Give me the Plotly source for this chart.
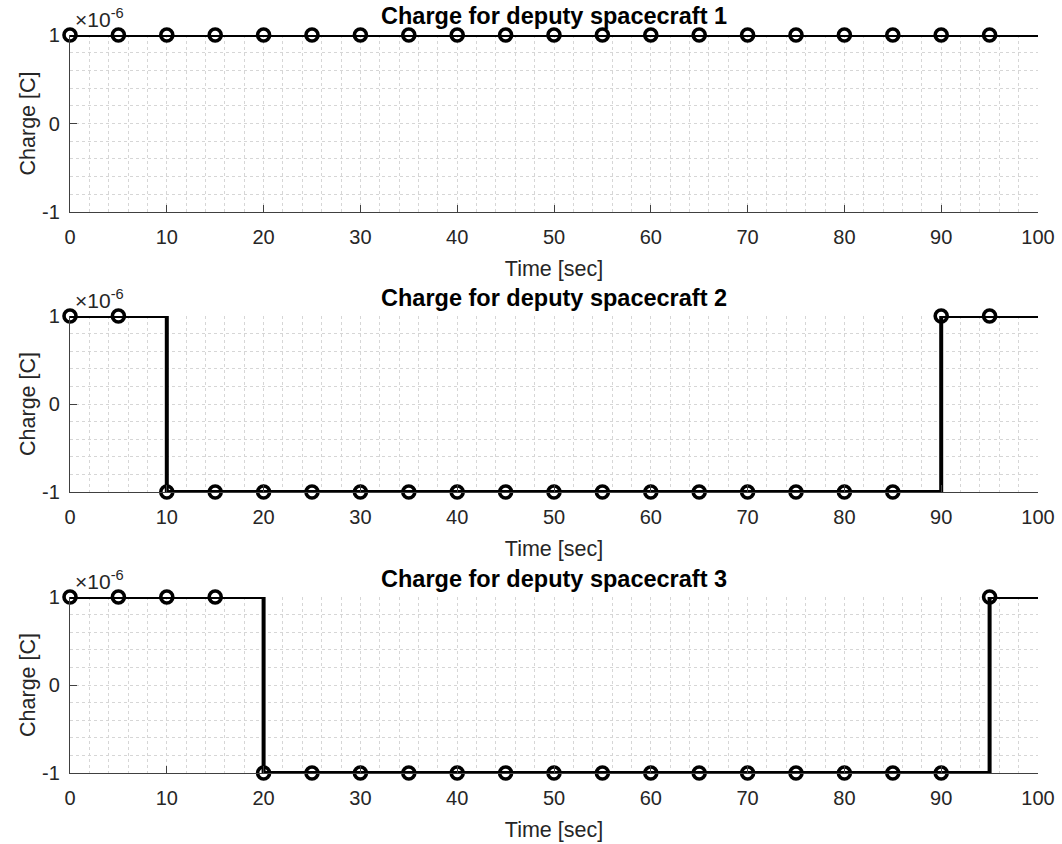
import plotly.graph_objects as go

time_s = [0, 5, 10, 15, 20, 25, 30, 35, 40, 45, 50, 55, 60, 65, 70, 75, 80, 85, 90, 95]
t_end = 100
charge_1 = [1e-6] * 20
charge_2 = [1e-6, 1e-6] + [-1e-6] * 16 + [1e-6, 1e-6]
charge_3 = [1e-6] * 4 + [-1e-6] * 15 + [1e-6]
series = [charge_1, charge_2, charge_3]
titles = ["Charge for deputy spacecraft 1", "Charge for deputy spacecraft 2", "Charge for deputy spacecraft 3"]
x_ticks = [0, 10, 20, 30, 40, 50, 60, 70, 80, 90, 100]
y_ticks = [-1e-6, 0, 1e-6]
y_tick_text = ["-1", "0", "1"]

W, H = 1062, 844
x0, x1 = 70, 1038
panels_px = [(35, 212), (316, 492), (597, 773)]

FONT = "Liberation Sans, Arial, Helvetica, sans-serif"
AX = "#404040"
GRID = "#d6d6d6"
TXT = "#262626"

fig = go.Figure()
for i, (vals, title) in enumerate(zip(series, titles)):
    n = i + 1
    xa = "x" if n == 1 else f"x{n}"
    ya = "y" if n == 1 else f"y{n}"
    fig.add_trace(go.Scatter(
        x=time_s + [t_end], y=vals + [vals[-1]], mode="lines", line_shape="hv",
        line=dict(color="black", width=4), xaxis=xa, yaxis=ya, showlegend=False,
        hoverinfo="skip", cliponaxis=False))
    fig.add_trace(go.Scatter(
        x=time_s, y=vals, mode="markers",
        marker=dict(symbol="circle-open", size=12, color="black", line=dict(width=3.6)),
        xaxis=xa, yaxis=ya, showlegend=False, cliponaxis=False))
    top, bot = panels_px[i]
    dom_y = [1 - bot / H, 1 - top / H]
    axkey_x = "xaxis" if n == 1 else f"xaxis{n}"
    axkey_y = "yaxis" if n == 1 else f"yaxis{n}"
    fig.update_layout(**{
        axkey_x: dict(
            domain=[x0 / W, x1 / W], range=[0, 100], anchor=ya, automargin=False,
            tickvals=x_ticks, ticks="inside", ticklen=7, tickcolor=AX, tickwidth=1,
            ticklabelstandoff=7, ticklabeloverflow="allow",
            showline=True, linecolor=AX, linewidth=1.2, mirror=False,
            showgrid=True, gridcolor=GRID, griddash="dot", gridwidth=1,
            minor=dict(dtick=2, showgrid=True, gridcolor=GRID, griddash="dot", gridwidth=1, ticks=""),
            zeroline=False,
            tickfont=dict(family=FONT, size=20, color=TXT),
            title=dict(text="Time [sec]", font=dict(family=FONT, size=21.5, color=TXT), standoff=13),
        ),
        axkey_y: dict(
            domain=dom_y, range=[-1e-6, 1e-6], anchor=xa, automargin=False,
            tickvals=y_ticks, ticktext=y_tick_text, ticks="inside", ticklen=7, tickcolor=AX,
            ticklabelstandoff=5, ticklabeloverflow="allow",
            showline=True, linecolor=AX, linewidth=1.2, mirror=False,
            showgrid=True, gridcolor=GRID, griddash="dot", gridwidth=1,
            minor=dict(dtick=2e-7, tick0=0, showgrid=True, gridcolor=GRID, griddash="dot", gridwidth=1, ticks=""),
            zeroline=False,
            tickfont=dict(family=FONT, size=20, color=TXT),
            title=dict(text="Charge [C]", font=dict(family=FONT, size=21.5, color=TXT), standoff=0),
        ),
    })
    fig.add_annotation(text="<b>" + title + "</b>", xref="paper", yref="paper",
                       x=(x0 + x1) / 2 / W, y=1 - (top - 18.5) / H, yanchor="middle", xanchor="center",
                       showarrow=False, font=dict(family=FONT, size=23.5, color="black"))
    fig.add_annotation(text="×10<sup>-6</sup>", xref="paper", yref="paper",
                       x=(x0 + 3) / W, y=1 - (top - 2) / H, yanchor="bottom", xanchor="left",
                       showarrow=False, font=dict(family=FONT, size=21, color=TXT))

fig.update_layout(width=W, height=H, margin=dict(l=0, r=0, t=0, b=0),
                  plot_bgcolor="white", paper_bgcolor="white")
fig.write_html("out.html", config={"displayModeBar": False},
               post_script="document.body.style.margin='0';document.body.style.overflow='hidden';")
